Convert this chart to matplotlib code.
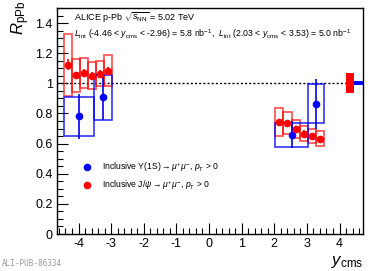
import numpy as np
import matplotlib
matplotlib.use("Agg")
import matplotlib.pyplot as plt
from matplotlib.patches import Rectangle
from matplotlib.ticker import MultipleLocator

plt.rcParams['font.family'] = ['Liberation Sans', 'DejaVu Sans']
plt.rcParams['mathtext.fontset'] = 'custom'
plt.rcParams['mathtext.rm'] = 'Liberation Sans'
plt.rcParams['mathtext.it'] = 'Liberation Sans:italic'
plt.rcParams['mathtext.bf'] = 'Liberation Sans:bold'
plt.rcParams['axes.unicode_minus'] = False

# J/psi bins (rapidity edges) and R_pPb
jpsi_lo = [-4.46, -4.21, -3.96, -3.71, -3.46, -3.21, 2.03, 2.28, 2.53, 2.78, 3.03, 3.28]
jpsi_hi = [-4.21, -3.96, -3.71, -3.46, -3.21, -2.96, 2.28, 2.53, 2.78, 3.03, 3.28, 3.53]
jpsi_r = [1.124, 1.053, 1.067, 1.051, 1.062, 1.084, 0.742, 0.738, 0.698, 0.667, 0.649, 0.633]
jpsi_stat = [0.035, 0.025, 0.025, 0.025, 0.025, 0.025, 0.02, 0.02, 0.02, 0.02, 0.02, 0.02]
jpsi_syst = [0.205, 0.11, 0.10, 0.09, 0.083, 0.103, 0.092, 0.075, 0.058, 0.05, 0.047, 0.051]

# Upsilon(1S) bins
ups_lo = [-4.46, -3.53, 2.03, 3.03]
ups_hi = [-3.53, -2.96, 3.03, 3.53]
ups_r = [0.78, 0.907, 0.658, 0.864]
ups_stat = [0.15, 0.15, 0.09, 0.165]
ups_syst = [0.127, 0.15, 0.082, 0.13]

# global uncertainties around unity
glob_lo = [4.21, 4.44]
glob_hi = [4.44, 4.80]
glob_err = [0.067, 0.014]
glob_col = ['red', 'blue']

fig = plt.figure(figsize=(3.74, 2.71), dpi=100)
ax = fig.add_axes([0.1524, 0.1365, 0.8182, 0.834])
ax.set_xlim(-4.66, 4.72)
ax.set_ylim(0, 1.5)

ax.plot([-4.66, 4.21], [1, 1], color='black', ls=(0, (1.5, 1.5)), lw=1.0, zorder=1)

for lo, hi, e, c in zip(glob_lo, glob_hi, glob_err, glob_col):
    ax.add_patch(Rectangle((lo, 1 - e), hi - lo, 2 * e, facecolor=c, edgecolor='none', zorder=2))

for lo, hi, r, s in zip(jpsi_lo, jpsi_hi, jpsi_r, jpsi_syst):
    ax.add_patch(Rectangle((lo, r - s), hi - lo, 2 * s, fill=False, edgecolor='red',
                           lw=1.3, alpha=0.65, zorder=3))
for lo, hi, r, s in zip(ups_lo, ups_hi, ups_r, ups_syst):
    ax.add_patch(Rectangle((lo, r - s), hi - lo, 2 * s, fill=False, edgecolor='blue',
                           lw=1.2, alpha=0.8, zorder=3))

jx = (np.array(jpsi_lo) + np.array(jpsi_hi)) / 2
ux = (np.array(ups_lo) + np.array(ups_hi)) / 2
ax.errorbar(ux, ups_r, yerr=ups_stat, fmt='o', color='blue', ms=4.5, lw=1.2,
            capsize=0, zorder=4)
ax.errorbar(jx, jpsi_r, yerr=jpsi_stat, fmt='o', color='red', ms=4.5, lw=1.2,
            capsize=0, zorder=5)

ax.xaxis.set_major_locator(MultipleLocator(1))
ax.xaxis.set_minor_locator(MultipleLocator(0.2))
ax.yaxis.set_major_locator(MultipleLocator(0.2))
ax.yaxis.set_minor_locator(MultipleLocator(0.05))
ax.set_yticks([0, 0.2, 0.4, 0.6, 0.8, 1.0, 1.2, 1.4])
ax.set_yticklabels(['0', '0.2', '0.4', '0.6', '0.8', '1', '1.2', '1.4'])
ax.tick_params(which='both', direction='in', top=False, right=False, labelsize=9)
ax.tick_params(which='major', length=8, width=0.8)
ax.tick_params(which='minor', length=4, width=0.8)
ax.tick_params(axis='x', pad=3)
ax.tick_params(axis='y', pad=3)
for sp in ax.spines.values():
    sp.set_linewidth(1.0)

ax.text(0.055, 0.955, r'ALICE p-Pb $\sqrt{s_{\rm NN}}$ = 5.02 TeV', transform=ax.transAxes,
        fontsize=6.5, va='center', ha='left')
ax.text(0.055, 0.885,
        r'$L_{\rm int}$ (-4.46 < $y_{\rm cms}$ < -2.96) = 5.8 nb$^{-1}$,  '
        r'$L_{\rm int}$ (2.03 < $y_{\rm cms}$ < 3.53) = 5.0 nb$^{-1}$',
        transform=ax.transAxes, fontsize=6.3, va='center', ha='left')

ax.plot([0.097], [0.296], 'o', color='blue', ms=4.5, transform=ax.transAxes, clip_on=False)
ax.plot([0.097], [0.216], 'o', color='red', ms=4.5, transform=ax.transAxes, clip_on=False)
ax.text(0.147, 0.296, r'Inclusive $\Upsilon$(1S)$\rightarrow\mu^{+}\mu^{-}$, $p_{\rm T}$ > 0',
        transform=ax.transAxes, fontsize=6.2, va='center', ha='left')
ax.text(0.147, 0.216, r'Inclusive J/$\psi\rightarrow\mu^{+}\mu^{-}$, $p_{\rm T}$ > 0',
        transform=ax.transAxes, fontsize=6.2, va='center', ha='left')

fig.text(0.055, 0.997, r'$R_{\rm pPb}$', fontsize=12, rotation=90, ha='center', va='top')
fig.text(0.972, 0.004, r'$y_{\rm cms}$', fontsize=12, ha='right', va='bottom')
fig.text(0.005, 0.01, 'ALI-PUB-86334', fontsize=5.5, color='#999999',
         family='DejaVu Sans Mono', ha='left', va='bottom')

fig.savefig('out.png', dpi=100)
